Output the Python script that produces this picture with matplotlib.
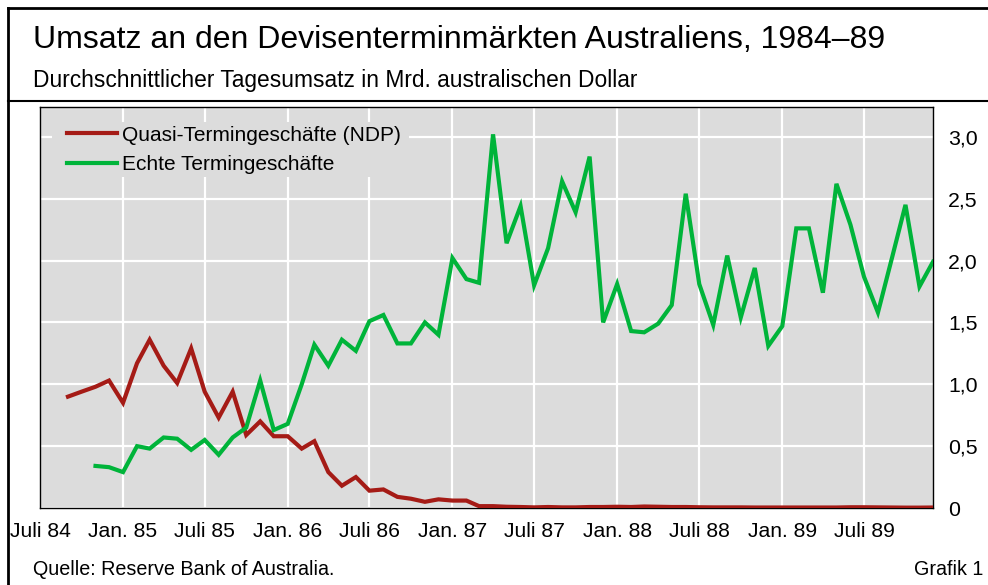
import matplotlib
matplotlib.use("Agg")
import matplotlib.pyplot as plt
from matplotlib.lines import Line2D
from matplotlib.patches import Rectangle
import pandas as pd

plt.rcParams["font.family"] = ["Liberation Sans", "DejaVu Sans"]

title = "Umsatz an den Devisenterminmärkten Australiens, 1984–89"
subtitle = "Durchschnittlicher Tagesumsatz in Mrd. australischen Dollar"
source = "Quelle: Reserve Bank of Australia."
label = "Grafik 1"

# monthly data, Mrd. AUD
ndp_start = "1984-09-01"
ndp = [0.90, 0.94, 0.98, 1.03, 0.85, 1.17, 1.36, 1.15, 1.01, 1.29,
       0.94, 0.73, 0.94, 0.59, 0.70, 0.58, 0.58, 0.48, 0.54, 0.29,
       0.18, 0.25, 0.14, 0.15, 0.09, 0.075, 0.05, 0.07, 0.06, 0.06,
       0.015, 0.015, 0.01, 0.008, 0.005, 0.008, 0.005, 0.005, 0.008, 0.008,
       0.01, 0.008, 0.012, 0.01, 0.008, 0.008, 0.006, 0.005, 0.005, 0.005,
       0.004, 0.004, 0.004, 0.004, 0.004, 0.004, 0.004, 0.006, 0.006, 0.005,
       0.004, 0.003, 0.003, 0.004]

fwd_start = "1984-11-01"
fwd = [0.34, 0.33, 0.29, 0.50, 0.48, 0.57, 0.56, 0.47, 0.55, 0.43,
       0.57, 0.65, 1.03, 0.63, 0.68, 1.00, 1.32, 1.15, 1.36, 1.27,
       1.51, 1.56, 1.33, 1.33, 1.50, 1.40, 2.02, 1.85, 1.82, 3.02,
       2.14, 2.44, 1.80, 2.10, 2.64, 2.39, 2.84, 1.50, 1.81, 1.43,
       1.42, 1.49, 1.64, 2.54, 1.81, 1.48, 2.04, 1.54, 1.94, 1.31,
       1.47, 2.26, 2.26, 1.74, 2.62, 2.29, 1.87, 1.58, 2.02, 2.45,
       1.79, 1.99]

series_names = ["Quasi-Termingeschäfte (NDP)", "Echte Termingeschäfte"]
series_colors = ["#a51b16", "#00b43a"]

tick_dates = ["1984-07-01", "1985-01-01", "1985-07-01", "1986-01-01", "1986-07-01",
              "1987-01-01", "1987-07-01", "1988-01-01", "1988-07-01", "1989-01-01",
              "1989-07-01"]
tick_labels = ["Juli 84", "Jan. 85", "Juli 85", "Jan. 86", "Juli 86", "Jan. 87",
               "Juli 87", "Jan. 88", "Juli 88", "Jan. 89", "Juli 89"]
y_ticks = [0, 0.5, 1.0, 1.5, 2.0, 2.5, 3.0]
y_labels = ["0", "0,5", "1,0", "1,5", "2,0", "2,5", "3,0"]

ndp_dates = pd.date_range(ndp_start, periods=len(ndp), freq="MS")
fwd_dates = pd.date_range(fwd_start, periods=len(fwd), freq="MS")

bg = "#dcdcdc"

fig = plt.figure(figsize=(9.88, 5.85), dpi=100)
ax = fig.add_axes([40 / 988, 77 / 585, 893 / 988, 401.5 / 585])
ax.set_facecolor(bg)

ax.plot(ndp_dates, ndp, color=series_colors[0], lw=3, solid_joinstyle="miter", zorder=3)
ax.plot(fwd_dates, fwd, color=series_colors[1], lw=3, solid_joinstyle="miter", zorder=3)

ax.set_xlim(pd.Timestamp("1984-07-01"), pd.Timestamp("1989-12-01"))
ax.set_ylim(0, 3.245)

ax.set_xticks(pd.to_datetime(tick_dates))
ax.set_xticklabels(tick_labels, fontsize=15.2)
ax.set_yticks(y_ticks)
ax.set_yticklabels(y_labels, fontsize=15.3)
ax.yaxis.tick_right()
ax.tick_params(axis="both", length=0)
ax.tick_params(axis="x", pad=10)
ax.tick_params(axis="y", pad=10.8)
for t in ax.get_yticklabels():
    t.set_horizontalalignment("left")

ax.grid(True, color="white", lw=1.6)
ax.set_axisbelow(True)
for s in ax.spines.values():
    s.set_linewidth(1.0)
    s.set_color("black")

# gray block behind the legend hides the gridlines there
ax.add_patch(Rectangle((0.0134, 0.8244), 0.40, 0.137, transform=ax.transAxes,
                       facecolor=bg, edgecolor="none", zorder=1))

handles = [Line2D([], [], color=c, lw=3) for c in series_colors]
leg = ax.legend(handles, series_names, loc="upper left", bbox_to_anchor=(0.0302, 0.952),
                fontsize=15, frameon=False, handlelength=2.4, handletextpad=0.25,
                labelspacing=0.51, borderpad=0, borderaxespad=0)

fig.text(33 / 988, 1 - 48 / 585, title, fontsize=23, va="baseline", ha="left")
fig.text(33 / 988, 1 - 87 / 585, subtitle, fontsize=16.4, va="baseline", ha="left")
fig.text(33 / 988, 1 - 575 / 585, source, fontsize=14.2, va="baseline", ha="left")
fig.text(983 / 988, 1 - 575 / 585, label, fontsize=14.2, va="baseline", ha="right")

# frame lines around the figure
fig.add_artist(Line2D([8 / 988, 8 / 988], [0, 1 - 8 / 585], color="black", lw=2,
                      transform=fig.transFigure))
fig.add_artist(Line2D([8 / 988, 1], [1 - 8 / 585, 1 - 8 / 585], color="black", lw=2,
                      transform=fig.transFigure))
fig.add_artist(Line2D([8 / 988, 1], [1 - 101 / 585, 1 - 101 / 585], color="black", lw=1.5,
                      transform=fig.transFigure))

fig.savefig("out.png", dpi=100)
